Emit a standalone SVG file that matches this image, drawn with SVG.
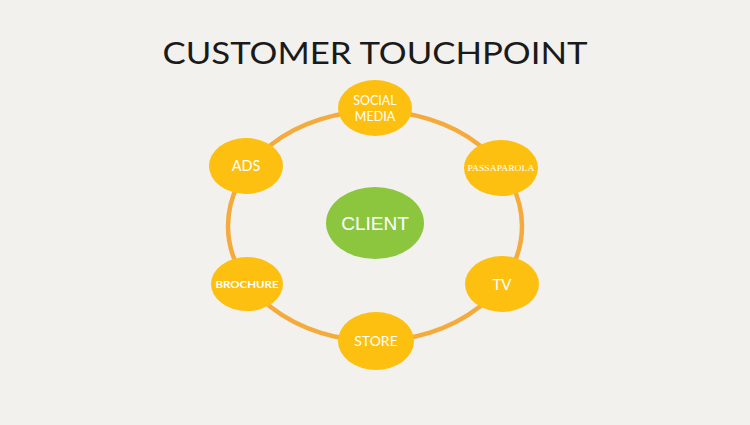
<svg xmlns="http://www.w3.org/2000/svg" width="750" height="425" viewBox="0 0 750 425">
<style>
.bg{fill:#f3f1ed}
.ring{fill:none;stroke:#f5aa3c;stroke-width:4.5}
.node{fill:#fdc010}
.client{fill:#8cc63f}
.lbl{fill:#ffffff;font-family:Lato,"Open Sans",sans-serif;text-anchor:middle}
.title{fill:#1a1a1a;font-family:Lato,"Open Sans",sans-serif;font-size:30px;text-anchor:middle}
</style>
<rect class="bg" width="750" height="425"/>
<text class="title" x="375" y="64" textLength="425" lengthAdjust="spacingAndGlyphs">CUSTOMER TOUCHPOINT</text>
<g id="connectors">
<ellipse class="ring" cx="375" cy="226" rx="147" ry="115"/>
</g>
<g id="social-media">
<ellipse class="node" cx="375" cy="108" rx="37" ry="28"/>
<text class="lbl" x="375" y="105" font-size="12.5">SOCIAL</text>
<text class="lbl" x="375" y="120.5" font-size="12.5">MEDIA</text>
</g>
<g id="passaparola">
<ellipse class="node" cx="501" cy="168" rx="37" ry="28"/>
<text class="lbl" x="501" y="171" font-size="9" textLength="67" lengthAdjust="spacingAndGlyphs" style="font-family:'Liberation Serif',serif">PASSAPAROLA</text>
</g>
<g id="ads">
<ellipse class="node" cx="246" cy="166" rx="37" ry="28"/>
<text class="lbl" x="246" y="171" font-size="14.5">ADS</text>
</g>
<g id="brochure">
<ellipse class="node" cx="247" cy="284" rx="36" ry="27"/>
<text class="lbl" x="247" y="287.5" font-size="9.5" font-weight="bold" textLength="63" lengthAdjust="spacingAndGlyphs">BROCHURE</text>
</g>
<g id="tv">
<ellipse class="node" cx="502" cy="284" rx="37" ry="28"/>
<text class="lbl" x="502" y="289.5" font-size="15">TV</text>
</g>
<g id="store">
<ellipse class="node" cx="376" cy="341" rx="38" ry="29"/>
<text class="lbl" x="376" y="346" font-size="14">STORE</text>
</g>
<g id="client">
<ellipse class="client" cx="375" cy="223" rx="49" ry="36"/>
<text class="lbl" x="375" y="230" font-size="19" style="font-family:'Liberation Sans',Arial,sans-serif">CLIENT</text>
</g>
</svg>
